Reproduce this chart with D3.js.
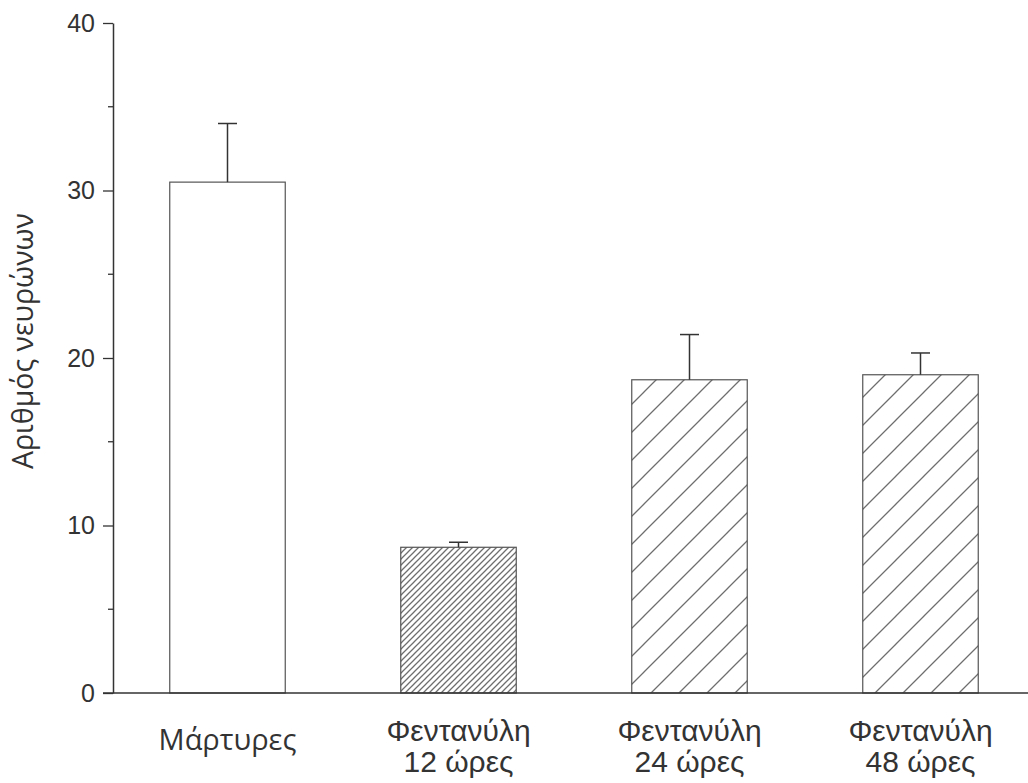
<!DOCTYPE html>
<html lang="en">
<head>
<meta charset="UTF-8">
<script src="https://d3js.org/d3.v7.min.js"></script>
<title>Αριθμός νευρώνων</title>
<style>
  body { margin: 0; background: #fff; }
</style>
</head>
<body>
<script>
var categories = ["Μάρτυρες", "Φεντανύλη\n12 ώρες", "Φεντανύλη\n24 ώρες", "Φεντανύλη\n48 ώρες"];
var means = [30.5, 8.7, 18.7, 19.0];
var errors = [3.5, 0.3, 2.7, 1.3];
var fills = ["none", "dense", "sparse", "sparse"];
var yTicks = [0, 10, 20, 30, 40];

var width = 1028, height = 783;
var svg = d3.select("body").append("svg")
  .attr("width", width).attr("height", height);

// hatch patterns
var defs = svg.append("defs");
function hatch(id, p) {
  defs.append("pattern")
    .attr("id", id)
    .attr("patternUnits", "userSpaceOnUse")
    .attr("width", p).attr("height", p)
    .append("path")
    .attr("d", "M-1,1 l2,-2 M0," + p + " l" + p + "," + (-p) + " M" + (p - 1) + "," + (p + 1) + " l2,-2")
    .attr("stroke", "#6e6e6e")
    .attr("stroke-width", 1.3);
}
hatch("dense", 6);
hatch("sparse", 28);

var x = d3.scaleBand()
  .domain(categories)
  .range([112, 1036])
  .paddingInner(0.5)
  .paddingOuter(0.25);

var y = d3.scaleLinear()
  .domain([0, 40])
  .range([693, 23]);

// bars
var bars = svg.selectAll("g.bar")
  .data(categories)
  .enter().append("g").attr("class", "bar");

bars.append("rect")
  .attr("x", function (d) { return x(d); })
  .attr("y", function (d, i) { return y(means[i]); })
  .attr("width", x.bandwidth())
  .attr("height", function (d, i) { return y(0) - y(means[i]); })
  .attr("fill", function (d, i) { return fills[i] == "none" ? "#fff" : "url(#" + fills[i] + ")"; })
  .attr("stroke", "#555")
  .attr("stroke-width", 1.2);

// error bars (upper only)
bars.append("line")
  .attr("x1", function (d) { return x(d) + x.bandwidth() / 2; })
  .attr("x2", function (d) { return x(d) + x.bandwidth() / 2; })
  .attr("y1", function (d, i) { return y(means[i]); })
  .attr("y2", function (d, i) { return y(means[i] + errors[i]); })
  .attr("stroke", "#333").attr("stroke-width", 1.5);

bars.append("line")
  .attr("x1", function (d) { return x(d) + x.bandwidth() / 2 - 9.5; })
  .attr("x2", function (d) { return x(d) + x.bandwidth() / 2 + 9.5; })
  .attr("y1", function (d, i) { return y(means[i] + errors[i]); })
  .attr("y2", function (d, i) { return y(means[i] + errors[i]); })
  .attr("stroke", "#333").attr("stroke-width", 1.5);

// y axis
var yAxis = svg.append("g")
  .attr("transform", "translate(113,0)")
  .call(d3.axisLeft(y).tickValues(yTicks).tickSize(10).tickPadding(8).tickSizeOuter(0));
yAxis.select(".domain").attr("stroke", "#333").attr("stroke-width", 1.5);
yAxis.selectAll(".tick line").attr("stroke", "#333").attr("stroke-width", 1.3);
yAxis.selectAll(".tick text")
  .attr("font-family", "'Liberation Sans', Arial, sans-serif")
  .attr("font-size", 25)
  .attr("fill", "#333");

// minor ticks
svg.append("g").selectAll("line")
  .data([5, 15, 25, 35])
  .enter().append("line")
  .attr("x1", 108).attr("x2", 113)
  .attr("y1", function (d) { return y(d); })
  .attr("y2", function (d) { return y(d); })
  .attr("stroke", "#333").attr("stroke-width", 1.3);

// x axis line
svg.append("line")
  .attr("x1", 103).attr("x2", width)
  .attr("y1", y(0)).attr("y2", y(0))
  .attr("stroke", "#333").attr("stroke-width", 1.5);

// category labels
var labels = svg.append("g").selectAll("text")
  .data(categories)
  .enter().append("text")
  .attr("text-anchor", "middle")
  .attr("fill", "#333")
  .attr("font-size", function (d, i) { return i == 0 ? 29 : 30; })
  .attr("font-family", function (d, i) { return i == 0 ? "'Open Sans', sans-serif" : "'Liberation Sans', Arial, sans-serif"; });

labels.each(function (d, i) {
  var lines = d.split("\n");
  var t = d3.select(this);
  lines.forEach(function (s, j) {
    t.append("tspan")
      .attr("x", x(d) + x.bandwidth() / 2)
      .attr("y", (i == 0 ? 750 : 741) + j * 31)
      .text(s);
  });
});

// y title
svg.append("text")
  .attr("transform", "translate(33,341) rotate(-90)")
  .attr("text-anchor", "middle")
  .attr("font-family", "'Open Sans', sans-serif")
  .attr("font-size", 28.5)
  .attr("fill", "#333")
  .text("Αριθμός νευρώνων");
</script>
</body>
</html>
